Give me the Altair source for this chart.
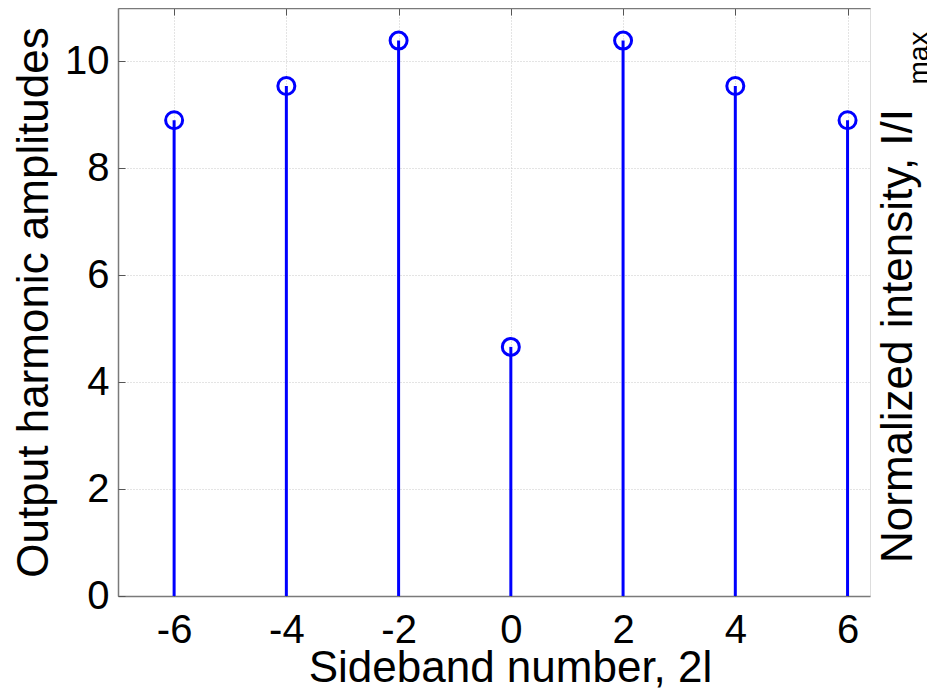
import altair as alt
import pandas as pd

# Data
sideband = [-6, -4, -2, 0, 2, 4, 6]
amplitude = [8.9, 9.54, 10.39, 4.66, 10.39, 9.54, 8.9]
x_ticks = [-6, -4, -2, 0, 2, 4, 6]
y_ticks = [0, 2, 4, 6, 8, 10]
right_title = ["Normalized intensity, I/I"]
right_sub = ["max"]

df = pd.DataFrame({"k": sideband, "v": amplitude})
df_rt = pd.DataFrame({"t": right_title})
df_rs = pd.DataFrame({"t": right_sub})

FONT = "Liberation Sans"
BLUE = "#0000ff"
FRAME = "#7a7a7a"
TICK = "#555555"

xscale = alt.Scale(domain=[-7, 6.4], nice=False, zero=False)
yscale = alt.Scale(domain=[0, 11], nice=False, zero=True)

main_x = alt.Axis(
    orient="bottom", values=x_ticks, labelExpr="datum.value + ''",
    labelFont=FONT, labelFontSize=40, labelColor="black",
    labelBaseline="alphabetic", labelPadding=46, ticks=False, tickSize=0,
    domain=True, domainColor=FRAME, domainWidth=1.5,
    grid=True, gridColor="#c8c8c8", gridDash=[1, 2], gridWidth=1,
    title="Sideband number, 2l", titleFont=FONT, titleFontSize=44,
    titleFontWeight="normal", titleColor="black",
    titleX=392, titleY=85, titleBaseline="alphabetic", titleAlign="center",
    labelFlush=False, labelOverlap=False,
)
main_y = alt.Axis(
    orient="left", values=y_ticks,
    labelFont=FONT, labelFontSize=40, labelColor="black",
    labelPadding=9, ticks=False, tickSize=0,
    domain=True, domainColor=FRAME, domainWidth=1.5,
    grid=True, gridColor="#c8c8c8", gridDash=[1, 2], gridWidth=1,
    title="Output harmonic amplitudes", titleFont=FONT, titleFontSize=44,
    titleFontWeight="normal", titleColor="black", titleAngle=270,
    titleX=-71, titleY=294, titleBaseline="alphabetic", titleAlign="center",
    labelFlush=False, labelOverlap=False,
)

def tick_axis(orient, values):
    return alt.Axis(orient=orient, values=values, offset=-7, tickSize=7,
                    tickColor=TICK, tickWidth=1, labels=False, domain=False,
                    grid=False, title=None)

stems = alt.Chart(df).mark_rule(color=BLUE, strokeWidth=3).encode(
    x=alt.X("k:Q", scale=xscale, axis=main_x),
    y=alt.Y("v:Q", scale=yscale, axis=main_y),
    y2=alt.datum(0),
)

pts = alt.Chart(df).mark_point(shape="circle", filled=False, color=BLUE,
                               strokeWidth=3, size=289, opacity=1).encode(
    x=alt.X("k:Q", scale=xscale, axis=tick_axis("bottom", x_ticks)),
    y=alt.Y("v:Q", scale=yscale, axis=tick_axis("left", y_ticks)),
)

top_ticks = alt.Chart(df).mark_point(opacity=0).encode(
    x=alt.X("k:Q", scale=xscale, axis=tick_axis("top", x_ticks)),
    y=alt.Y("v:Q", scale=yscale, axis=None),
)

top_frame = alt.Chart(df).mark_point(opacity=0).encode(
    x=alt.X("k:Q", scale=xscale,
            axis=alt.Axis(orient="top", values=x_ticks, ticks=False,
                          labels=False, domain=True, domainColor=FRAME,
                          domainWidth=1.5, grid=False, title=None)),
    y=alt.Y("v:Q", scale=yscale, axis=None),
)

rt = alt.Chart(df_rt).mark_text(angle=270, align="center", baseline="alphabetic",
                                font=FONT, fontSize=44, color="black").encode(
    text="t:N", x=alt.value(794), y=alt.value(328),
)
rs = alt.Chart(df_rs).mark_text(angle=270, align="center", baseline="alphabetic",
                                font=FONT, fontSize=28, color="black").encode(
    text="t:N", x=alt.value(810), y=alt.value(50),
)

chart = alt.layer(stems, pts, top_ticks, top_frame, rt, rs).resolve_axis(
    x="independent", y="independent"
).properties(
    width=752, height=588,
    autosize=alt.AutoSizeParams(type="none"),
    padding={"left": 110, "top": 0, "right": 57, "bottom": 94},
).configure_view(stroke=None).configure(background="white")

chart.save("out.html", embed_options={"renderer": "svg", "actions": False})
